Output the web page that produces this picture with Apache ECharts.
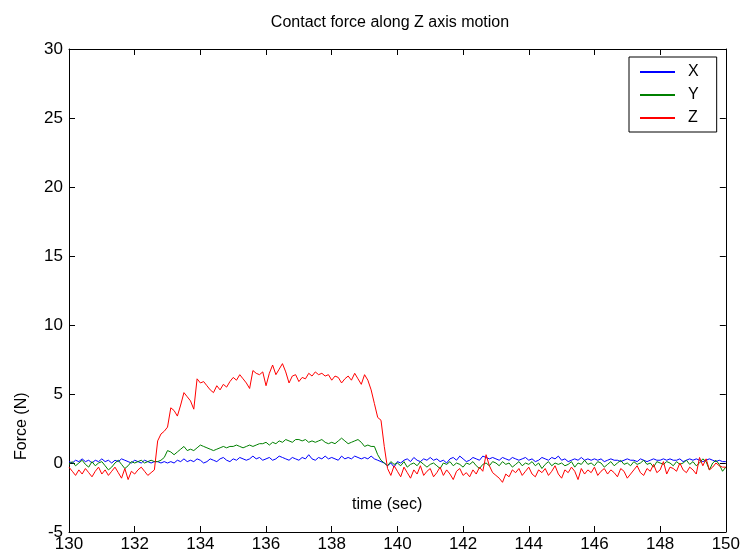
<!DOCTYPE html>
<html>
<head>
<meta charset="utf-8">
<script src="https://cdn.jsdelivr.net/npm/echarts@6/dist/echarts.min.js"></script>
<style>
  html, body { margin: 0; padding: 0; background: #fff; }
  #main { width: 743px; height: 555px; }
</style>
</head>
<body>
<div id="main"></div>
<script>
// sampled every 0.1 sec from 130 to 150 (10 values per row = 1 sec)
const tStart = 130;
const tStep = 0.1;

const forceX = [
  0.1,0.0,0.2,0.1,0.3,0.1,0.2,0.0,0.2,0.1,
  0.3,0.1,0.2,0.0,0.2,0.1,0.3,0.2,0.1,0.0,
  0.2,0.1,0.0,0.2,0.1,0.0,0.1,0.1,0.0,0.1,
  0.0,0.1,0.0,0.2,0.1,0.3,0.1,0.2,0.1,0.3,
  0.2,0.0,0.1,0.3,0.2,0.1,0.3,0.4,0.2,0.1,
  0.3,0.2,0.4,0.3,0.2,0.3,0.5,0.3,0.4,0.2,
  0.3,0.4,0.2,0.3,0.5,0.4,0.3,0.2,0.4,0.3,
  0.2,0.4,0.3,0.6,0.3,0.2,0.4,0.3,0.5,0.3,
  0.4,0.3,0.2,0.5,0.3,0.4,0.3,0.5,0.4,0.3,
  0.4,0.3,0.5,0.3,0.2,0.1,0.0,-0.2,0.0,-0.3,
  0.1,0.0,0.2,0.3,0.1,0.4,0.2,0.1,0.3,0.2,
  0.4,0.2,0.3,0.1,0.2,0.0,0.3,0.4,0.2,0.5,
  0.3,0.1,0.2,0.4,0.3,0.2,0.5,0.4,0.3,0.4,
  0.3,0.2,0.4,0.3,0.2,0.4,0.3,0.2,0.3,0.4,
  0.2,0.3,0.1,0.2,0.4,0.3,0.2,0.4,0.3,0.5,
  0.2,0.3,0.1,0.2,0.3,0.2,0.4,0.2,0.3,0.2,
  0.3,0.2,0.3,0.1,0.2,0.3,0.2,0.2,0.1,0.2,
  0.3,0.2,0.2,0.1,0.3,0.2,0.1,0.2,0.3,0.2,
  0.2,0.3,0.2,0.3,0.2,0.2,0.3,0.1,0.2,0.3,
  0.2,0.3,0.2,0.1,0.2,0.3,0.2,0.1,0.2,0.1,
  0.1
];

const forceY = [
  -0.1,0.1,-0.2,0.0,0.2,-0.1,-0.3,0.1,-0.2,0.0,
  0.1,-0.2,-0.5,-0.3,0.0,0.2,-0.1,-0.4,-0.2,0.1,
  0.0,0.1,0.2,0.0,0.1,0.2,0.1,0.1,0.2,0.4,
  0.9,0.8,0.6,0.8,1.0,1.2,0.9,1.0,0.9,1.1,
  1.3,1.2,1.1,1.0,0.9,1.0,1.1,1.2,1.1,1.2,
  1.2,1.3,1.2,1.1,1.2,1.3,1.2,1.3,1.4,1.4,
  1.5,1.3,1.5,1.4,1.6,1.5,1.7,1.6,1.5,1.7,
  1.7,1.6,1.7,1.5,1.6,1.5,1.6,1.7,1.5,1.4,
  1.5,1.4,1.6,1.8,1.6,1.4,1.5,1.6,1.7,1.5,
  1.2,1.3,1.2,1.2,0.6,0.2,0.0,-0.2,0.1,-0.1,
  0.0,-0.2,0.1,-0.3,-0.1,0.0,-0.2,0.1,-0.1,-0.3,
  -0.1,0.0,-0.2,-0.4,0.0,-0.1,0.1,-0.2,0.0,-0.1,
  -0.3,0.0,-0.1,0.1,-0.2,-0.4,-0.1,0.0,-0.2,0.1,
  0.0,-0.2,0.1,-0.1,0.0,-0.3,-0.1,0.1,-0.2,0.0,
  -0.1,0.1,-0.2,0.0,-0.4,-0.1,0.1,-0.2,0.0,-0.1,
  0.0,-0.2,-0.1,0.1,-0.3,0.0,-0.1,0.2,-0.1,0.0,
  -0.2,0.1,0.0,-0.3,-0.1,0.1,-0.2,0.0,0.2,-0.1,
  0.0,-0.2,0.1,-0.1,0.0,0.2,-0.1,0.0,-0.3,0.1,
  0.0,-0.1,0.1,0.0,-0.2,0.1,-0.1,0.0,0.2,-0.1,
  0.1,-0.2,0.0,0.3,0.1,-0.5,0.0,0.2,-0.1,-0.6,
  -0.3
];

const forceZ = [
  -0.3,-0.6,-0.9,-0.5,-0.8,-0.4,-0.7,-1.0,-0.6,-0.3,
  -0.8,-0.5,-0.9,-0.6,-0.3,-0.7,-1.1,-0.4,-1.2,-0.6,
  -0.8,-0.5,-0.3,-0.6,-0.9,-0.7,-0.5,1.6,2.1,2.3,
  2.6,4.0,3.8,3.4,4.2,5.1,4.8,4.5,3.9,6.1,
  5.8,5.9,5.6,5.3,5.1,5.6,5.3,5.7,5.5,5.9,
  6.2,6.0,6.4,6.1,5.8,5.4,6.7,6.5,6.4,6.6,
  5.6,6.5,7.1,6.4,6.8,7.2,6.6,5.8,6.3,6.4,
  5.9,6.2,6.1,6.5,6.3,6.6,6.4,6.5,6.3,6.4,
  6.0,6.3,6.2,5.8,6.1,6.3,6.0,6.5,6.1,5.7,
  6.4,6.0,5.3,4.3,3.3,3.1,1.2,-0.4,-0.9,-0.2,
  -0.6,-1.0,-0.3,-0.7,-1.1,-0.5,-0.8,-0.2,-0.9,-0.6,
  -0.4,-1.0,-0.7,-0.3,-0.9,-0.5,-0.8,-1.2,-0.6,-0.4,
  -0.9,-0.7,-1.0,-0.5,-0.8,-0.3,-0.6,0.6,-0.2,-0.7,
  -0.9,-1.1,-1.4,-0.8,-1.0,-0.5,-0.7,-0.4,-0.9,-0.6,
  -0.3,-0.8,-1.0,-0.5,-0.7,-0.4,-0.9,-0.6,-0.2,-0.8,
  -1.1,-0.5,-0.7,-0.3,-0.6,-1.2,-0.4,-0.8,-0.5,-0.7,
  -0.3,-0.9,-0.6,-0.4,-0.8,-0.5,-0.7,-1.0,-0.4,-0.6,
  -1.1,-0.8,-0.5,-0.2,-0.7,-0.9,-0.4,-0.6,-0.1,-0.7,
  -0.5,0.1,-0.8,-0.3,-0.4,-0.6,0.0,-0.5,-0.7,-0.3,
  -0.5,-0.8,0.4,-0.2,0.3,-0.5,-0.3,0.0,-0.2,-0.3,
  -0.3
];

const seriesNames = ['X', 'Y', 'Z'];
const seriesColors = ['#0000ff', '#008000', '#ff0000'];

const toPairs = (vals) => vals.map((v, i) => [+(tStart + i * tStep).toFixed(1), v]);

const chart = echarts.init(document.getElementById('main'));
const font = 'Liberation Sans, Arial, sans-serif';
const black = '#000';

const tickStyle = { show: true, inside: true, length: 6, lineStyle: { color: black, width: 1 } };
const lineStyle = { show: true, onZero: false, lineStyle: { color: black } };

const option = {
  animation: false,
  backgroundColor: '#fff',
  textStyle: { fontFamily: font },
  title: {
    text: 'Contact force along Z axis motion',
    left: 385, top: 10, textAlign: 'center',
    textStyle: { fontSize: 16, fontWeight: 'normal', color: black, fontFamily: font }
  },
  grid: { left: 69, right: 17, top: 49, bottom: 23, containLabel: false },
  legend: {
    orient: 'vertical',
    left: 629, top: 57,
    padding: [7, 18, 6, 11],
    itemWidth: 35, itemHeight: 2, itemGap: 7,
    icon: 'rect',
    borderColor: black, borderWidth: 1,
    backgroundColor: '#fff',
    data: seriesNames,
    textStyle: { fontSize: 16, color: black, fontFamily: font, padding: [0, 0, 0, 8], lineHeight: 16 }
  },
  xAxis: [
    {
      type: 'value', min: 130, max: 150, interval: 2,
      axisLine: lineStyle,
      axisTick: tickStyle,
      axisLabel: { color: black, fontSize: 17, margin: 4 },
      splitLine: { show: false }
    },
    {
      type: 'value', position: 'top', min: 130, max: 150, interval: 2,
      axisLine: lineStyle,
      axisTick: tickStyle,
      axisLabel: { show: false },
      splitLine: { show: false }
    }
  ],
  yAxis: [
    {
      type: 'value', min: -5, max: 30, interval: 5,
      axisLine: lineStyle,
      axisTick: tickStyle,
      axisLabel: { color: black, fontSize: 17, margin: 6 },
      splitLine: { show: false }
    },
    {
      type: 'value', position: 'right', min: -5, max: 30, interval: 5,
      axisLine: lineStyle,
      axisTick: tickStyle,
      axisLabel: { show: false },
      splitLine: { show: false }
    }
  ],
  graphic: [
    {
      type: 'text', left: 352, top: 497,
      style: { text: 'time (sec)', fill: black, font: '16px ' + font }
    },
    {
      type: 'text', x: 14, y: 460, rotation: Math.PI / 2,
      style: { text: 'Force (N)', fill: black, font: '16px ' + font }
    }
  ],
  series: [forceX, forceY, forceZ].map((vals, k) => ({
    name: seriesNames[k],
    type: 'line',
    data: toPairs(vals),
    showSymbol: false,
    symbol: 'none',
    color: seriesColors[k],
    lineStyle: { width: 1, color: seriesColors[k] },
    z: 2 + k
  }))
};

chart.setOption(option);
</script>
</body>
</html>
